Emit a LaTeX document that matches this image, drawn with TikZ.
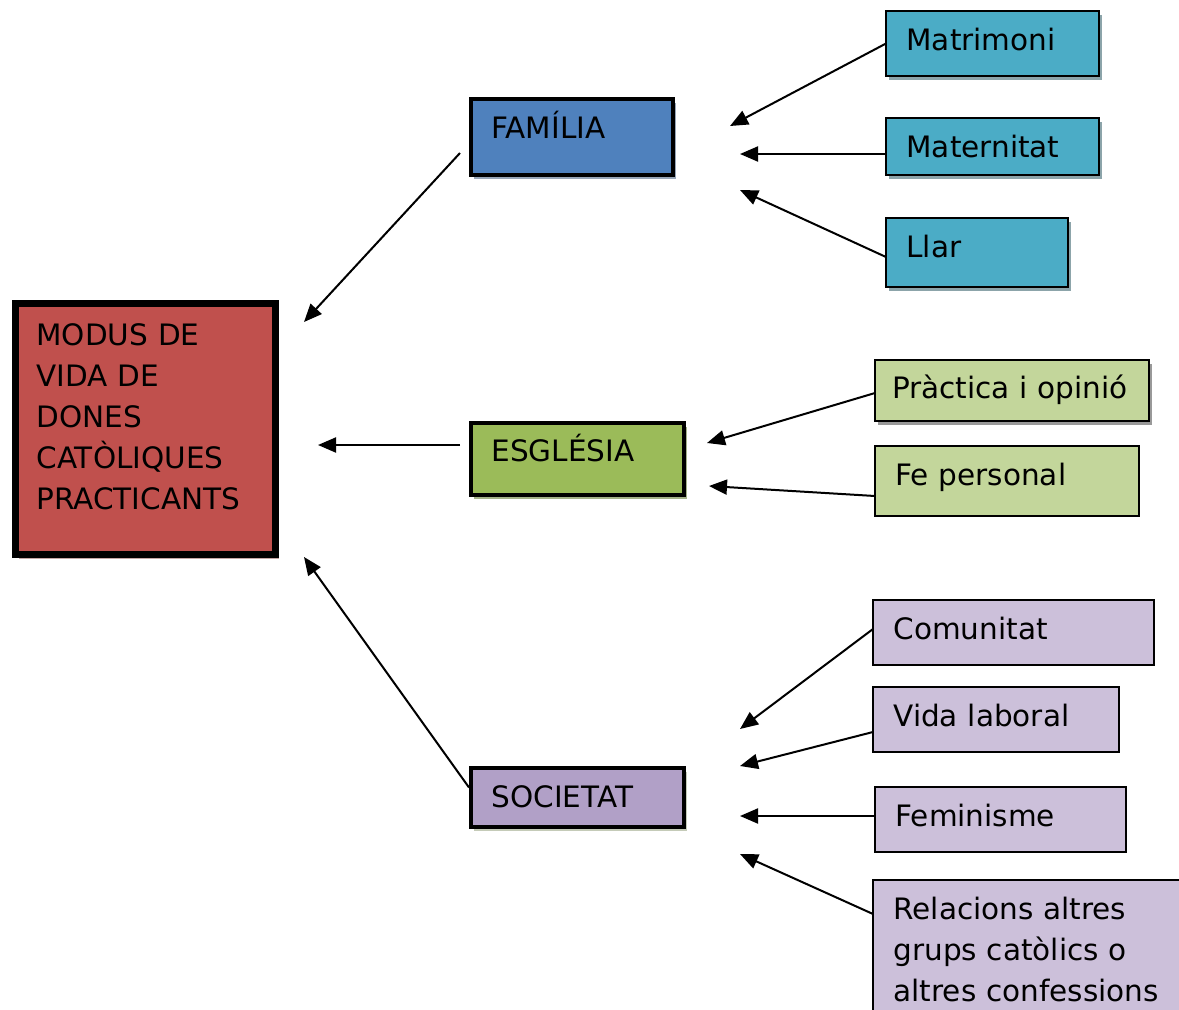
\documentclass[tikz,border=0pt]{standalone}
\usepackage{fontspec}
\setmainfont{DejaVu Sans}
\usetikzlibrary{arrows.meta,shadows}

\definecolor{modred}{HTML}{C0504D}
\definecolor{famblue}{HTML}{4F81BD}
\definecolor{esggreen}{HTML}{9BBB59}
\definecolor{socpurple}{HTML}{B1A0C7}
\definecolor{famleaf}{HTML}{4BACC6}
\definecolor{esgleaf}{HTML}{C3D69B}
\definecolor{socleaf}{HTML}{CCC0DA}

\tikzset{
	box/.style={draw,anchor=north west,outer sep=0pt,inner ysep=0pt,inner xsep=20.5pt,align=left,
		text height=39.5pt,font=\fontsize{29.5}{41}\selectfont},
	shade/.style={drop shadow={shadow xshift=3pt,shadow yshift=-4pt,fill=#1,opacity=1}},
	modus/.style={box,line width=7pt,fill=modred,inner xsep=21pt,shade=modred!45!gray!60},
	topic/.style={box,line width=4pt,fill=#1},
	leaf/.style={box,line width=2pt,fill=#1},
	arrow/.style={line width=2pt,-{Triangle[length=18pt,width=15pt]}}
}

\begin{document}
\begin{tikzpicture}[x=1pt,y=-1pt]
	\useasboundingbox (0,0) rectangle (1179,1010);
	\node[modus,text width=218pt,text height=41.5pt,text depth=209.5pt] (modus) at (15.5,303.5)
		{MODUS DE\\VIDA DE\\DONES\\CATÒLIQUES\\PRACTICANTS};

	\node[topic=famblue,shade=famblue!40!gray!70,text width=161pt,text depth=36.5pt] (fam) at (471,99) {FAMÍLIA};
	\node[topic=esggreen,shade=esggreen!50!gray!80,text width=172pt,text height=38.5pt,text depth=33.5pt] (esg) at (471,423) {ESGLÉSIA};
	\node[topic=socpurple,shade=esggreen!40!gray!50,text width=172pt,text depth=19.5pt] (soc) at (471,768) {SOCIETAT};

	\node[leaf=famleaf,shade=famleaf!30!gray!80,text width=172pt,text depth=25.5pt] (matr) at (886,11) {Matrimoni};
	\node[leaf=famleaf,shade=famleaf!30!gray!80,text width=172pt,text depth=17.5pt] (matn) at (886,118) {Maternitat};
	\node[leaf=famleaf,shade=famleaf!30!gray!80,text width=141pt,text depth=29.5pt] (llar) at (886,218) {Llar};

	\node[leaf=esgleaf,shade=gray!80,inner xsep=17pt,text width=240pt,text height=38.5pt,text depth=22.5pt] (prac) at (875,360) {Pràctica i opinió};
	\node[leaf=esgleaf,text width=223pt,text depth=30.5pt] (fe) at (875,446) {Fe personal};

	\node[leaf=socleaf,text width=240pt,text depth=25.5pt] (com) at (873,600) {Comunitat};
	\node[leaf=socleaf,text width=205pt,text depth=25.5pt] (vida) at (873,687) {Vida laboral};
	\node[leaf=socleaf,text width=210pt,text depth=25.5pt] (fem) at (875,787) {Feminisme};
	\node[leaf=socleaf,text width=280pt,text depth=150pt] (rel) at (873,880)
		{Relacions altres\\grups catòlics o\\altres confessions};

	\coordinate (tipfam) at (304,322);
	\coordinate (tipesg) at (318,445);
	\coordinate (tipsoc) at (304,557);
	\coordinate (tipmatr) at (730,126);
	\coordinate (tipmatn) at (740,154);
	\coordinate (tipllar) at (740,190);
	\coordinate (tipprac) at (707,443);
	\coordinate (tipfe) at (709,486);
	\coordinate (tipcom) at (740,729);
	\coordinate (tipvida) at (740,766);
	\coordinate (tipfem) at (740,816);
	\coordinate (tiprel) at (740,854);

	\draw[arrow] ([xshift=-11pt,yshift=-16pt]fam.west) -- (tipfam);
	\draw[arrow] ([xshift=-11pt,yshift=14pt]esg.west) -- (tipesg);
	\draw[arrow] ([xshift=-2pt,yshift=10pt]soc.west) -- (tipsoc);

	\draw[arrow] (matr.west) -- (tipmatr);
	\draw[arrow] ([yshift=-7.5pt]matn.west) -- (tipmatn);
	\draw[arrow] ([yshift=-4.5pt]llar.west) -- (tipllar);
	\draw[arrow] ([yshift=-2.5pt]prac.west) -- (tipprac);
	\draw[arrow] ([yshift=-15pt]fe.west) -- (tipfe);
	\draw[arrow] ([yshift=3.5pt]com.west) -- (tipcom);
	\draw[arrow] ([yshift=-12.5pt]vida.west) -- (tipvida);
	\draw[arrow] ([yshift=3.5pt]fem.west) -- (tipfem);
	\draw[arrow] ([yshift=-34pt]rel.north west) -- (tiprel);
\end{tikzpicture}
\end{document}
